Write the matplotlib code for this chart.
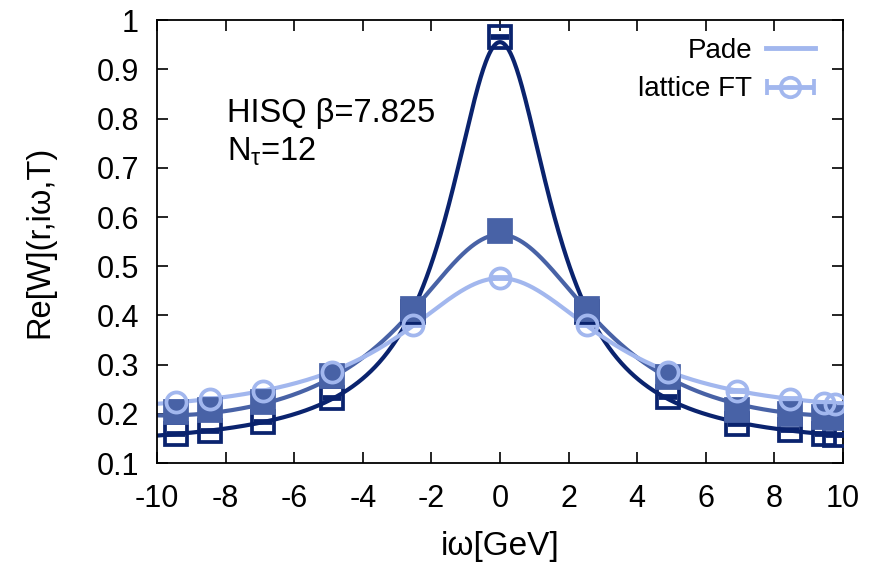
import numpy as np
import matplotlib.pyplot as plt
from matplotlib.container import ErrorbarContainer
from matplotlib.legend_handler import HandlerErrorbar

plt.rcParams['font.family'] = ['Liberation Sans', 'DejaVu Sans']
plt.rcParams['mathtext.fontset'] = 'custom'
plt.rcParams['mathtext.rm'] = 'Liberation Sans'
plt.rcParams['mathtext.it'] = 'Liberation Sans'
plt.rcParams['axes.unicode_minus'] = False

# Matsubara frequencies (GeV) of the Nt=12 lattice
omega = [-9.44, -8.46, -6.91, -4.89, -2.53, 0.0, 2.53, 4.89, 6.91, 8.46, 9.44, 9.77]

# Re[W] from the lattice Fourier transform, three separations r
w_dark = [0.159, 0.166, 0.184, 0.232, 0.408, 0.966, 0.408, 0.234, 0.180, 0.167, 0.159, 0.157]
w_mid = [0.204, 0.208, 0.224, 0.276, 0.414, 0.571, 0.414, 0.275, 0.208, 0.199, 0.194, 0.192]
w_light = [0.225, 0.231, 0.247, 0.286, 0.380, 0.476, 0.380, 0.286, 0.247, 0.231, 0.222, 0.221]
w_err = [0.002] * len(omega)

c_dark = '#0a236e'
c_mid = '#4862a6'
c_light = '#a2b7ee'


def pade(x, y, xs):
    # W = c + A / (1 + b1 w^2 + b2 w^4); scan the constant c,
    # solve the rest linearly and keep the best pole-free fit
    x = np.asarray(x)
    y = np.asarray(y)
    t = x ** 2
    ts = xs ** 2
    best = None
    for c in np.linspace(0.0, y.min() - 1e-3, 400):
        z = y - c
        M = np.column_stack([np.ones_like(t), -t * z, -t ** 2 * z])
        A, b1, b2 = np.linalg.lstsq(M, z, rcond=None)[0]
        den = 1 + b1 * ts + b2 * ts ** 2
        if den.min() <= 0.05:
            continue
        res = np.sum((c + A / (1 + b1 * t + b2 * t ** 2) - y) ** 2)
        if best is None or res < best[0]:
            best = (res, c + A / den)
    return best[1]


fig, ax = plt.subplots(figsize=(8.79, 5.76), dpi=100)
fig.subplots_adjust(left=0.1786, right=0.959, top=0.965, bottom=0.196)

xs = np.linspace(-10, 10, 800)

for w, col, mk, mfc, ms in [(w_dark, c_dark, 's', 'none', 15.5),
                            (w_mid, c_mid, 's', c_mid, 15.5),
                            (w_light, c_light, 'o', 'none', 14.5)]:
    ax.plot(xs, pade(omega, w, xs), color=col, lw=3.0, zorder=2)
    ax.errorbar(omega, w, yerr=w_err, fmt=mk, ms=ms, mfc=mfc, mec=col,
                mew=2.7, ecolor=col, elinewidth=2.2, capsize=6.5, capthick=2.4,
                color=col, zorder=3)

# legend samples (placed outside the axes range, so only the key shows them)
l_pade, = ax.plot([], [], color=c_light, lw=3.5, label='Pade')
l_ft = ax.errorbar([-100], [0.5], xerr=[1], fmt='o', ms=14, mfc='none', mec=c_light,
                   mew=2.7, ecolor=c_light, elinewidth=3.5, capsize=6,
                   capthick=3.5, label='lattice FT')
ax.legend(handles=[l_pade, l_ft], loc='upper right', frameon=False,
          markerfirst=False, fontsize=20, handlelength=1.75,
          bbox_to_anchor=(0.975, 0.985), borderaxespad=0.0,
          labelspacing=0.45, handletextpad=0.5,
          handler_map={ErrorbarContainer: HandlerErrorbar(xerr_size=0.85)})

ax.text(-7.95, 0.81, 'HISQ β=7.825', fontsize=23.5, va='center')
ax.text(-7.95, 0.733, r'N$_{\mathrm{\tau}}$=12', fontsize=23.5, va='center')

ax.set_xlim(-10, 10)
ax.set_ylim(0.1, 1.0)
ax.set_xticks(np.arange(-10, 11, 2))
ax.set_yticks(np.arange(0.1, 1.01, 0.1))
ax.set_yticklabels(['0.1', '0.2', '0.3', '0.4', '0.5', '0.6', '0.7', '0.8', '0.9', '1'])
ax.tick_params(direction='in', length=8, width=1.2, top=True, right=True,
               labelsize=22)
ax.tick_params(axis='x', pad=15)
ax.tick_params(axis='y', pad=13)
for s in ax.spines.values():
    s.set_linewidth(1.3)

ax.set_xlabel('iω[GeV]', fontsize=24, labelpad=12)
ax.set_ylabel('Re[W](r,iω,T)', fontsize=23.5)
ax.yaxis.set_label_coords(-0.148, 0.5)

fig.savefig('out.png', dpi=100)
